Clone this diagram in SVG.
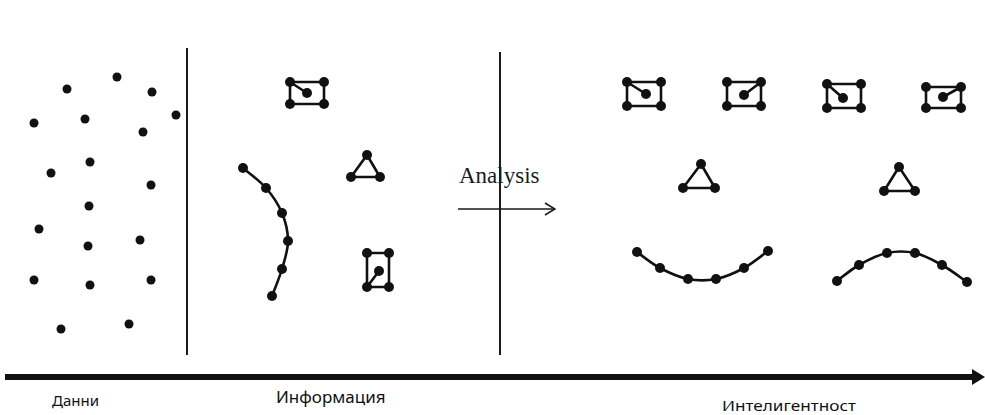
<svg xmlns="http://www.w3.org/2000/svg" width="985" height="415" viewBox="0 0 985 415">
<style>
.bg{fill:#ffffff}
.pt{fill:#111111}
.nd{fill:#111111}
.ln{fill:none;stroke:#111111;stroke-width:2.6;stroke-linejoin:round;stroke-linecap:round}
.div{stroke:#1a1a1a;stroke-width:2}
.lbl{font-family:"Noto Sans","Open Sans","DejaVu Sans",sans-serif;fill:#111111}
.ser{font-family:"Liberation Serif","Times New Roman",serif;fill:#1a1a1a}
</style>
<defs>
<marker id="chev" viewBox="0 0 12 14" refX="11" refY="7" markerWidth="12" markerHeight="14" markerUnits="userSpaceOnUse" orient="auto">
<path d="M1,1 L11,7 L1,13" fill="none" stroke="#1a1a1a" stroke-width="1.6"/>
</marker>
</defs>
<rect class="bg" x="0" y="0" width="985" height="415"/>

<g id="data-points">
<circle class="pt" cx="67" cy="89" r="4.5"/>
<circle class="pt" cx="117" cy="77" r="4.5"/>
<circle class="pt" cx="152" cy="92" r="4.5"/>
<circle class="pt" cx="176" cy="115" r="4.5"/>
<circle class="pt" cx="34" cy="123" r="4.5"/>
<circle class="pt" cx="85" cy="119" r="4.5"/>
<circle class="pt" cx="143" cy="132" r="4.5"/>
<circle class="pt" cx="90" cy="162" r="4.5"/>
<circle class="pt" cx="51" cy="173" r="4.5"/>
<circle class="pt" cx="151" cy="185" r="4.5"/>
<circle class="pt" cx="89" cy="206" r="4.5"/>
<circle class="pt" cx="39" cy="229" r="4.5"/>
<circle class="pt" cx="88" cy="246" r="4.5"/>
<circle class="pt" cx="140" cy="240" r="4.5"/>
<circle class="pt" cx="34" cy="280" r="4.5"/>
<circle class="pt" cx="90" cy="285" r="4.5"/>
<circle class="pt" cx="151" cy="280" r="4.5"/>
<circle class="pt" cx="61" cy="329" r="4.5"/>
<circle class="pt" cx="129" cy="324" r="4.5"/>
</g>

<g id="info-rect-1">
<rect class="ln" x="290" y="82" width="34" height="22"/>
<line class="ln" x1="290" y1="82" x2="307" y2="93"/>
<circle class="nd" cx="290" cy="82" r="5"/><circle class="nd" cx="324" cy="82" r="5"/>
<circle class="nd" cx="290" cy="104" r="5"/><circle class="nd" cx="324" cy="104" r="5"/>
<circle class="nd" cx="307" cy="93" r="5"/>
</g>
<g id="info-triangle">
<polygon class="ln" points="367,155 351,177 380,177"/>
<circle class="nd" cx="367" cy="155" r="5"/><circle class="nd" cx="351" cy="177" r="5"/><circle class="nd" cx="380" cy="177" r="5"/>
</g>
<g id="info-rect-2">
<rect class="ln" x="367" y="253" width="22" height="34"/>
<line class="ln" x1="367" y1="287" x2="379" y2="271"/>
<circle class="nd" cx="367" cy="253" r="5"/><circle class="nd" cx="389" cy="253" r="5"/>
<circle class="nd" cx="367" cy="287" r="5"/><circle class="nd" cx="389" cy="287" r="5"/>
<circle class="nd" cx="379" cy="271" r="5"/>
</g>
<g id="info-curve">
<path class="ln" d="M243,168 C246.8,171.3 259.5,180.5 266,188 C272.5,195.5 278.3,204.2 282,213 C285.7,221.8 288,231.7 288,241 C288,250.3 284.7,259.8 282,269 C279.3,278.2 273.7,291.5 272,296"/>
<circle class="nd" cx="243" cy="168" r="5"/><circle class="nd" cx="266" cy="188" r="5"/><circle class="nd" cx="282" cy="213" r="5"/>
<circle class="nd" cx="288" cy="241" r="5"/><circle class="nd" cx="282" cy="269" r="5"/><circle class="nd" cx="272" cy="296" r="5"/>
</g>

<g id="intel-rect-1">
<rect class="ln" x="627" y="82" width="34" height="24"/>
<line class="ln" x1="627" y1="82" x2="646" y2="94"/>
<circle class="nd" cx="627" cy="82" r="5"/><circle class="nd" cx="661" cy="82" r="5"/>
<circle class="nd" cx="627" cy="106" r="5"/><circle class="nd" cx="661" cy="106" r="5"/>
<circle class="nd" cx="646" cy="94" r="5"/>
</g>
<g id="intel-rect-2">
<rect class="ln" x="727" y="82" width="34" height="24"/>
<line class="ln" x1="761" y1="82" x2="744" y2="95"/>
<circle class="nd" cx="727" cy="82" r="5"/><circle class="nd" cx="761" cy="82" r="5"/>
<circle class="nd" cx="727" cy="106" r="5"/><circle class="nd" cx="761" cy="106" r="5"/>
<circle class="nd" cx="744" cy="95" r="5"/>
</g>
<g id="intel-rect-3">
<rect class="ln" x="827" y="84" width="34" height="24"/>
<line class="ln" x1="827" y1="84" x2="843" y2="98"/>
<circle class="nd" cx="827" cy="84" r="5"/><circle class="nd" cx="861" cy="84" r="5"/>
<circle class="nd" cx="827" cy="108" r="5"/><circle class="nd" cx="861" cy="108" r="5"/>
<circle class="nd" cx="843" cy="98" r="5"/>
</g>
<g id="intel-rect-4">
<rect class="ln" x="926" y="87" width="35" height="21"/>
<line class="ln" x1="961" y1="87" x2="943" y2="97"/>
<circle class="nd" cx="926" cy="87" r="5"/><circle class="nd" cx="961" cy="87" r="5"/>
<circle class="nd" cx="926" cy="108" r="5"/><circle class="nd" cx="961" cy="108" r="5"/>
<circle class="nd" cx="943" cy="97" r="5"/>
</g>
<g id="intel-triangle-1">
<polygon class="ln" points="701,164 683,188 715,188"/>
<circle class="nd" cx="701" cy="164" r="5"/><circle class="nd" cx="683" cy="188" r="5"/><circle class="nd" cx="715" cy="188" r="5"/>
</g>
<g id="intel-triangle-2">
<polygon class="ln" points="899,167 884,191 915,191"/>
<circle class="nd" cx="899" cy="167" r="5"/><circle class="nd" cx="884" cy="191" r="5"/><circle class="nd" cx="915" cy="191" r="5"/>
</g>
<g id="intel-curve-1">
<path class="ln" d="M637,252 C640.8,254.7 651.5,263.5 660,268 C668.5,272.5 678.7,277.2 688,279 C697.3,280.8 706.7,280.8 716,279 C725.3,277.2 735.3,272.7 744,268 C752.7,263.3 764,253.8 768,251"/>
<circle class="nd" cx="637" cy="252" r="5"/><circle class="nd" cx="660" cy="268" r="5"/><circle class="nd" cx="688" cy="279" r="5"/>
<circle class="nd" cx="716" cy="279" r="5"/><circle class="nd" cx="744" cy="268" r="5"/><circle class="nd" cx="768" cy="251" r="5"/>
</g>
<g id="intel-curve-2">
<path class="ln" d="M837,281 C840.7,278.3 850.7,269.7 859,265 C867.3,260.3 877.7,255 887,253 C896.3,251 905.8,251 915,253 C924.2,255 933.3,260.2 942,265 C950.7,269.8 962.8,279.2 967,282"/>
<circle class="nd" cx="837" cy="281" r="5"/><circle class="nd" cx="859" cy="265" r="5"/><circle class="nd" cx="887" cy="253" r="5"/>
<circle class="nd" cx="915" cy="253" r="5"/><circle class="nd" cx="942" cy="265" r="5"/><circle class="nd" cx="967" cy="282" r="5"/>
</g>

<g id="connectors">
<line class="div" x1="187" y1="48" x2="187" y2="355"/>
<line class="div" x1="500" y1="52" x2="500" y2="355"/>
<line x1="458" y1="209" x2="555" y2="209" stroke="#1a1a1a" stroke-width="1.6" marker-end="url(#chev)"/>
<line x1="5" y1="377" x2="974" y2="377" stroke="#111111" stroke-width="6"/>
<polygon points="972,369 985,377 972,385" fill="#111111"/>
</g>

<g id="labels">
<text class="ser" x="459" y="183" font-size="23">Analysis</text>
<text class="lbl" x="52" y="406" font-size="15">Данни</text>
<text class="lbl" x="276" y="403" font-size="17">Информация</text>
<text class="lbl" x="722" y="411" font-size="14.5" textLength="134" lengthAdjust="spacingAndGlyphs">Интелигентност</text>
</g>
</svg>
